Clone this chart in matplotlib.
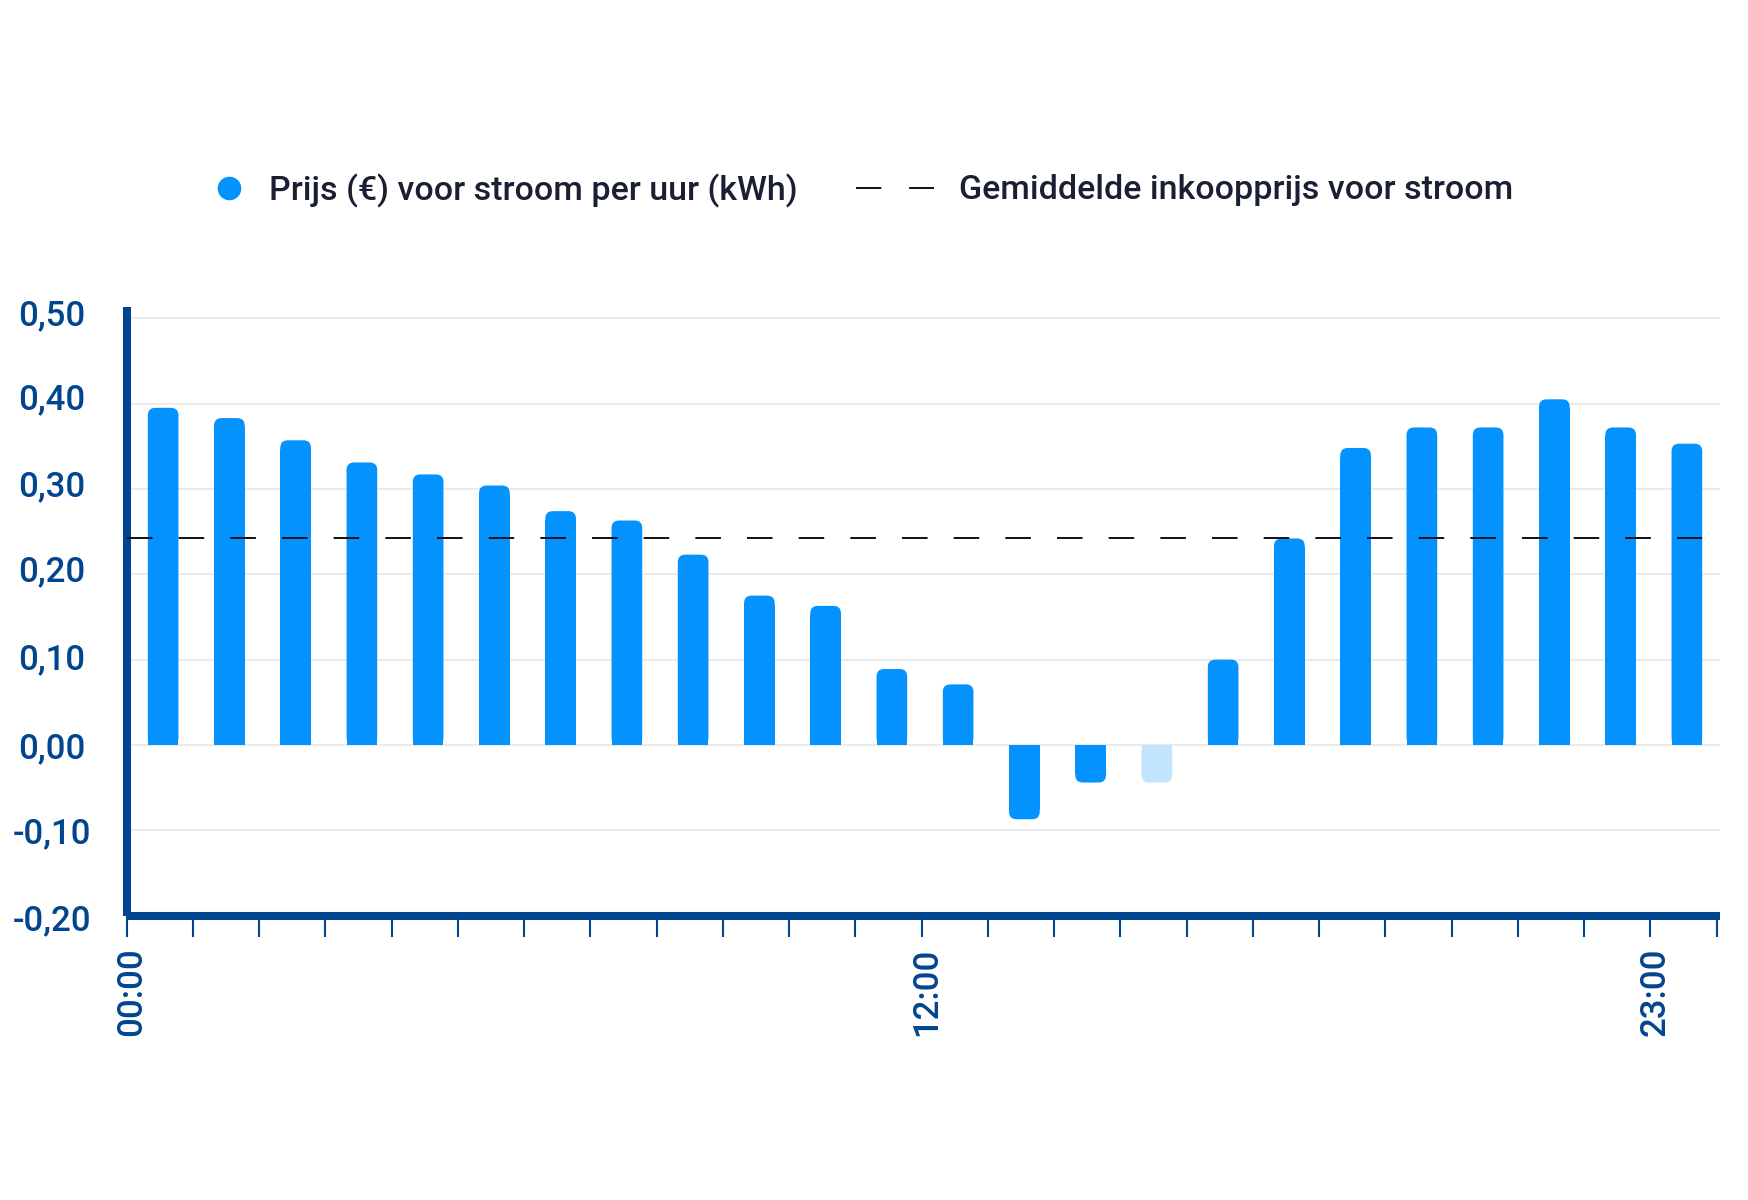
import matplotlib
matplotlib.use("Agg")
import matplotlib.pyplot as plt
from matplotlib.patches import FancyBboxPatch
from matplotlib.lines import Line2D
from matplotlib.transforms import ScaledTranslation
import numpy as np

# ---- data ----
hours = list(range(24))
prices = [0.395, 0.383, 0.357, 0.331, 0.317, 0.304, 0.274, 0.263, 0.223, 0.175,
          0.163, 0.089, 0.071, -0.087, -0.044, -0.044, 0.100, 0.242, 0.348, 0.372,
          0.372, 0.405, 0.372, 0.353]
highlight_hour = 15
avg_price = 0.243
y_ticks = [-0.20, -0.10, 0.00, 0.10, 0.20, 0.30, 0.40, 0.50]
y_tick_labels = ["-0,20", "-0,10", "0,00", "0,10", "0,20", "0,30", "0,40", "0,50"]
x_label_hours = [0, 12, 23]
x_label_texts = ["00:00", "12:00", "23:00"]
legend_labels = ["Prijs (€) voor stroom per uur (kWh)", "Gemiddelde inkoopprijs voor stroom"]

# ---- style ----
BLUE = "#0492FF"
LIGHT = "#C3E4FD"
NAVY = "#02458F"
TEXT = "#1B1F33"
GRID = "#E6E6E6"
plt.rcParams["font.family"] = ["Roboto", "DejaVu Sans"]
plt.rcParams["lines.scale_dashes"] = False
FS = 24.5
TFS = 25

W, H = 1748, 1200
fig = plt.figure(figsize=(W / 100, H / 100), dpi=100)
left = 126.7 / W
bottom = (H - 915.7) / H
top = (H - 306.7) / H
ax = fig.add_axes([left, bottom, 0.9115, top - bottom])
ax.set_xlim(0, 24.05)
ax.set_ylim(-0.2, 0.5135)

# grid
ax.set_yticks(y_ticks)
ax.set_yticklabels(y_tick_labels)
ax.yaxis.grid(True, color=GRID, linewidth=1.1, zorder=0)
ax.set_axisbelow(True)

# x ticks: every hour boundary, labels at selected hours
ax.set_xticks(np.arange(0, 25))
xlabels = [""] * 25
for h, t in zip(x_label_hours, x_label_texts):
    xlabels[h] = t
ax.set_xticklabels(xlabels, rotation=90, va="top", ha="center")

for s in ["top", "right"]:
    ax.spines[s].set_visible(False)
for s in ["left", "bottom"]:
    ax.spines[s].set_color(NAVY)
    ax.spines[s].set_linewidth(5.8)
    ax.spines[s].set_capstyle("butt")

ax.tick_params(axis="x", direction="out", length=15, width=1.5, color=NAVY,
               pad=8, labelsize=TFS, labelcolor=NAVY)
ax.tick_params(axis="y", length=0, pad=54, labelsize=TFS, labelcolor=NAVY)
for lab in ax.get_yticklabels():
    lab.set_horizontalalignment("center")
for lab in ax.get_xticklabels() + ax.get_yticklabels():
    lab.set_fontweight("medium")

# small label nudges (pixels) to mimic the original label spacing
y_nudge_px = {-0.20: -2, -0.10: 0, 0.00: 0, 0.10: 3, 0.20: 6, 0.30: 6, 0.40: 7, 0.50: 6}
for lab, val in zip(ax.get_yticklabels(), y_ticks):
    lab.set_transform(lab.get_transform() +
                      ScaledTranslation(0, y_nudge_px[val] / 100, fig.dpi_scale_trans))
for lab in ax.get_xticklabels():
    lab.set_transform(lab.get_transform() +
                      ScaledTranslation(5 / 100, 0, fig.dpi_scale_trans))

# bars with rounded outer end
bar_shift = 0.05
xpos = np.array(hours) + 0.5 + bar_shift
colors = [LIGHT if i == highlight_hour else BLUE for i in hours]
bw = 0.463
bars = ax.bar(xpos, prices, width=bw, color=colors, linewidth=0, zorder=2)

fig.canvas.draw()
p0 = ax.transData.transform((0, 0))
p1 = ax.transData.transform((1, 1))
px_x = p1[0] - p0[0]
px_y = p1[1] - p0[1]
rad_px = 7.5
r_x = rad_px / px_x
r_y = rad_px / px_y
for rect, v, c in zip(bars, prices, colors):
    x0 = rect.get_x()
    w = rect.get_width()
    sgn = 1 if v >= 0 else -1
    rect.set_height(v - sgn * min(r_y * 1.2, abs(v) * 0.5))
    y0 = min(0, v)
    hh = abs(v)
    patch = FancyBboxPatch((x0, y0), w, hh,
                           boxstyle=f"round,pad=0,rounding_size={r_x}",
                           mutation_aspect=r_y / r_x,
                           facecolor=c, edgecolor="none", linewidth=0, zorder=2)
    ax.add_patch(patch)

# average line
ax.hlines(avg_price, 0, xpos[-1] + bw / 2, colors="#111111", linewidth=1.4,
          linestyles=(0, (18.4, 18.8)), zorder=3)

# legends
h1 = Line2D([], [], marker="o", linestyle="none", markersize=17, color=BLUE,
            markeredgewidth=0)
h2 = Line2D([], [], color="#111111", linewidth=1.4, linestyle=(0, (18.2, 20.0)))
ly = 1 - 190.5 / H
leg1 = fig.legend([h1], [legend_labels[0]], loc="center left",
                  bbox_to_anchor=(211.5 / W, ly), frameon=False, fontsize=FS,
                  handlelength=1.0, handletextpad=0.68, borderpad=0, borderaxespad=0)
leg2 = fig.legend([h2], [legend_labels[1]], loc="center left",
                  bbox_to_anchor=(856 / W, ly), frameon=False, fontsize=FS,
                  handlelength=2.3, handletextpad=0.72, borderpad=0, borderaxespad=0)
for lg in (leg1, leg2):
    for t in lg.get_texts():
        t.set_color(TEXT)
        t.set_fontweight("medium")

fig.savefig("out.png", dpi=100, facecolor="white")
